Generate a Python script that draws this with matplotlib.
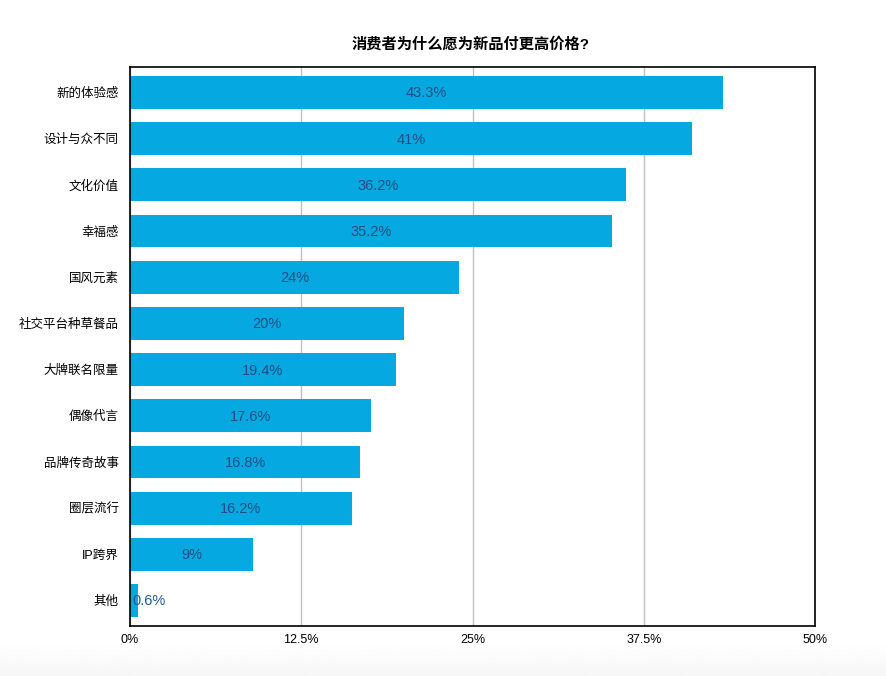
import numpy as np
import matplotlib.pyplot as plt

plt.rcParams['font.family'] = ['Liberation Sans', 'Noto Sans CJK SC', 'DejaVu Sans']

categories = ["新的体验感", "设计与众不同", "文化价值", "幸福感", "国风元素", "社交平台种草餐品",
              "大牌联名限量", "偶像代言", "品牌传奇故事", "圈层流行", "IP跨界", "其他"]
values = [43.3, 41, 36.2, 35.2, 24, 20, 19.4, 17.6, 16.8, 16.2, 9, 0.6]
labels = ["43.3%", "41%", "36.2%", "35.2%", "24%", "20%", "19.4%", "17.6%", "16.8%", "16.2%", "9%", "0.6%"]
xticks = [0, 12.5, 25, 37.5, 50]
xtick_labels = ["0%", "12.5%", "25%", "37.5%", "50%"]

fig = plt.figure(figsize=(8.86, 6.76), dpi=100)

# faint grey fade along the bottom edge
bg = fig.add_axes([0, 0, 1, 0.048], zorder=-1)
bg.imshow(np.linspace(1.0, 0.965, 50).reshape(-1, 1), cmap="gray", vmin=0, vmax=1,
          aspect="auto", extent=[0, 1, 0, 1])
bg.axis("off")

ax = fig.add_axes([0.1467, 0.074, 0.7732, 0.8269])

pos = list(range(len(categories)))
ax.barh(pos, values, height=0.71, color="#05a8e0", zorder=2)

for p, v, lab in zip(pos, values, labels):
    if v > 3:
        ax.text(v / 2, p + 0.02, lab, ha="center", va="center", fontsize=10.5,
                color="#1e4f80", zorder=3)
    else:
        ax.text(0.15, p + 0.02, lab, ha="left", va="center", fontsize=10.5,
                color="#1e5a96", zorder=3)

ax.set_xlim(0, 50)
ax.set_ylim(11.55, -0.55)
ax.set_yticks(pos)
ax.set_yticklabels(categories, fontsize=9)
ax.set_xticks(xticks)
ax.set_xticklabels(xtick_labels, fontsize=9)
ax.tick_params(length=0, pad=8)
ax.tick_params(axis="x", pad=6)
ax.xaxis.grid(True, color="#c0c0c0", linewidth=1, zorder=1)
ax.set_axisbelow(True)
for s in ax.spines.values():
    s.set_linewidth(1.2)
    s.set_color("black")

fig.text(0.531, 0.935, "消费者为什么愿为新品付更高价格?", ha="center", va="center",
         fontsize=11, fontweight="bold")

fig.savefig("out.png", dpi=100)
